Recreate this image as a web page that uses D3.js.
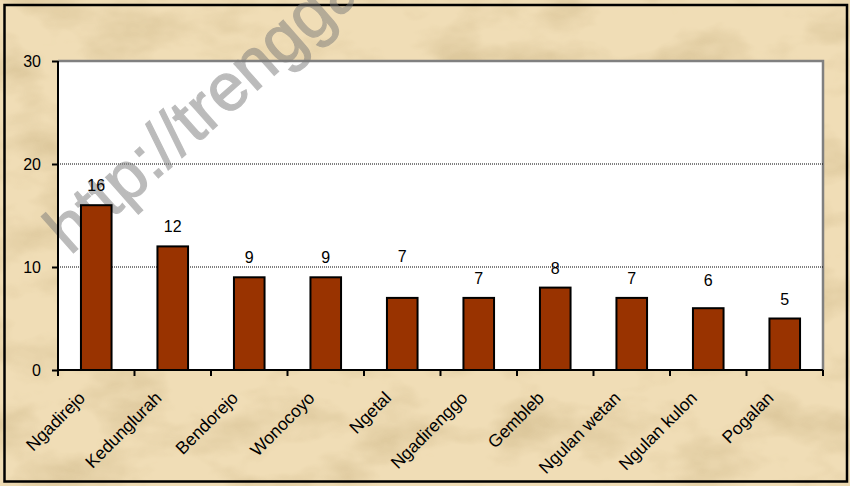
<!DOCTYPE html>
<html>
<head>
<meta charset="utf-8">
<script src="https://cdn.jsdelivr.net/npm/d3@7"></script>
<style>
  html, body { margin: 0; padding: 0; background: #fff; }
  #graf { width: 850px; height: 486px; }
  text { font-family: Arial, "Liberation Sans", sans-serif; }
</style>
</head>
<body>
<div id="graf"></div>
<script>
// datos
desa = ['Ngadirejo', 'Kedunglurah', 'Bendorejo', 'Wonocoyo', 'Ngetal',
        'Ngadirenggo', 'Gembleb', 'Ngulan wetan', 'Ngulan kulon', 'Pogalan']
jumlah = [16, 12, 9, 9, 7, 7, 8, 7, 6, 5]
yTicks = [0, 10, 20, 30]
marca = 'http://trenggalekkab.go.id'

// desplazamiento extra de algunas etiquetas (como en el original)
labelLift = [0, 0, 0, 0, 22, 0, 0, 0, 8, 0]

ancho_total = 850
alto_total = 486
margins = { top: 61, left: 58, right: 27, bottom: 116 }
ancho = ancho_total - margins.left - margins.right
alto  = alto_total - margins.top - margins.bottom

svg = d3.select('#graf').append('svg')
        .attr('width', ancho_total)
        .attr('height', alto_total)

// textura de papel
defs = svg.append('defs')
f = defs.append('filter').attr('id', 'papel')
        .attr('x', 0).attr('y', 0).attr('width', '100%').attr('height', '100%')
f.append('feTurbulence')
  .attr('type', 'fractalNoise')
  .attr('baseFrequency', '0.012 0.022')
  .attr('numOctaves', 4)
  .attr('seed', 7)
f.append('feColorMatrix')
  .attr('type', 'matrix')
  .attr('values', '0 0 0 0 0.62  0 0 0 0 0.48  0 0 0 0 0.25  0 0 0 2.2 -0.95')

svg.append('rect')
   .attr('width', ancho_total).attr('height', alto_total)
   .attr('fill', '#f0ddb6')
svg.append('rect')
   .attr('width', ancho_total).attr('height', alto_total)
   .attr('filter', 'url(#papel)')
   .attr('opacity', 0.6)

svg.append('rect')
   .attr('x', 4.5).attr('y', 5).attr('width', 842.5).attr('height', 476.5)
   .attr('fill', 'none').attr('stroke', '#000').attr('stroke-width', 2.5)

fondo = svg.append('g')
           .attr('transform', `translate(${ margins.left }, ${ margins.top })`)

// escalas
y = d3.scaleLinear().domain([0, 30]).range([alto, 0])
x = d3.scaleBand()
      .domain(desa)
      .range([0, ancho])
      .paddingInner(0.6)
      .paddingOuter(0.3)

// area del grafico
fondo.append('rect')
 .attr('width', ancho).attr('height', alto)
 .attr('fill', '#fff')
fondo.append('path')
 .attr('d', `M0,${ y(30) }H${ ancho }V${ alto }`)
 .attr('fill', 'none').attr('stroke', '#808080').attr('stroke-width', 2.5)

// lineas de rejilla
fondo.selectAll('.grid')
 .data(yTicks.filter(d => d > 0 && d < 30))
 .enter().append('line')
   .attr('x1', 0).attr('x2', ancho)
   .attr('y1', d => y(d)).attr('y2', d => y(d))
   .attr('stroke', '#000').attr('stroke-width', 1)
   .attr('stroke-dasharray', '1,1')

// marca de agua (detras de las barras)
svg.append('text')
   .attr('transform', 'translate(70, 256) rotate(-41.5)')
   .style('font-size', '67px')
   .style('stroke', '#7a7a7a')
   .style('stroke-width', 1.2)
   .attr('fill', '#7a7a7a')
   .attr('opacity', 0.5)
   .text(marca)

g = svg.append('g')
       .attr('transform', `translate(${ margins.left }, ${ margins.top })`)

// barras
g.selectAll('.bar')
 .data(jumlah)
 .enter().append('rect')
   .attr('x', (d, i) => x(desa[i]))
   .attr('y', d => y(d))
   .attr('width', x.bandwidth())
   .attr('height', d => alto - y(d))
   .attr('fill', '#993300')
   .attr('stroke', '#000').attr('stroke-width', 2)

// etiquetas de valor
g.selectAll('.val')
 .data(jumlah)
 .enter().append('text')
   .attr('x', (d, i) => x(desa[i]) + x.bandwidth() / 2)
   .attr('y', (d, i) => y(d) - 14 - labelLift[i])
   .attr('text-anchor', 'middle')
   .style('font-size', '16px')
   .text(d => d)

// ejes
yAxisCall = d3.axisLeft(y).tickValues(yTicks).tickSize(6).tickPadding(11)
yAxisGroup = g.append('g').call(yAxisCall)
yAxisGroup.select('.domain').attr('stroke-width', 2).attr('d', `M0,${ alto }V0`)
yAxisGroup.selectAll('line').attr('stroke-width', 2)
yAxisGroup.selectAll('text').style('font-size', '16px').attr('fill', '#000')

xAxisCall = d3.axisBottom(x).tickSize(0).tickFormat('')
xAxisGroup = g.append('g')
              .attr('transform', `translate(0, ${ alto })`)
              .call(xAxisCall)
xAxisGroup.select('.domain').attr('stroke-width', 2).attr('d', `M0,0H${ ancho }`)

// marcas entre categorias
cortes = desa.map((d, i) => i * x.step())
cortes.push(ancho)
xAxisGroup.selectAll('.corte')
  .data(cortes)
  .enter().append('line')
    .attr('x1', d => d).attr('x2', d => d)
    .attr('y1', 0).attr('y2', 6)
    .attr('stroke', '#000').attr('stroke-width', 2)

// nombres rotados
xAxisGroup.selectAll('.nombre')
  .data(desa)
  .enter().append('text')
    .attr('transform', d => `translate(${ x(d) + x.bandwidth() / 2 - 10 }, 29) rotate(-45)`)
    .attr('text-anchor', 'end')
    .style('font-size', '17.5px')
    .attr('fill', '#000')
    .text(d => d)
</script>
</body>
</html>
